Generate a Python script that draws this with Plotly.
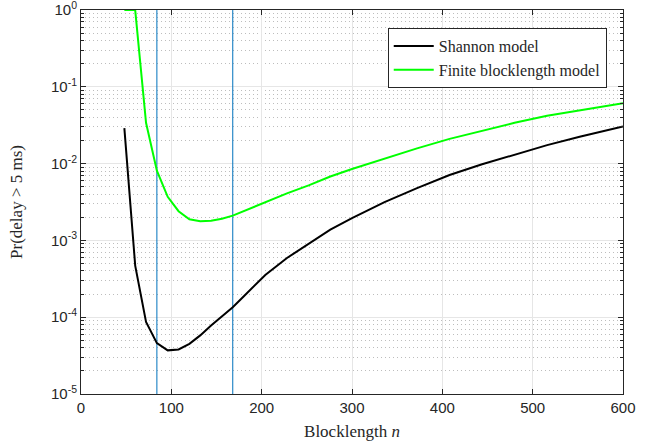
import plotly.graph_objects as go

# Blocklength values (n)
n_vals = [48, 60, 72, 84, 96, 108, 120, 132, 144, 156, 168, 180, 204, 228, 252,
          276, 300, 336, 372, 408, 444, 480, 516, 552, 600]

# Shannon model: Pr(delay > 5 ms)
shannon = [0.029, 4.7e-4, 8.7e-5, 4.6e-5, 3.7e-5, 3.8e-5, 4.5e-5, 5.8e-5, 7.8e-5,
           1.03e-4, 1.35e-4, 1.86e-4, 3.55e-4, 5.9e-4, 9.1e-4, 1.38e-3, 1.95e-3,
           3.16e-3, 4.8e-3, 7.1e-3, 9.8e-3, 0.0132, 0.0174, 0.0224, 0.0305]

# Finite blocklength model: Pr(delay > 5 ms)
finite = [1.0, 1.0, 0.034, 0.0081, 0.0037, 0.0024, 0.00188, 0.00178, 0.0018,
          0.00192, 0.0021, 0.0024, 0.0032, 0.0041, 0.0052, 0.0068, 0.0085,
          0.0117, 0.0158, 0.021, 0.027, 0.034, 0.042, 0.049, 0.061]

# Vertical marker lines
vline_x = [84, 168]

x_ticks = [0, 100, 200, 300, 400, 500, 600]
y_ticks = [1e-5, 1e-4, 1e-3, 1e-2, 1e-1, 1e0]
y_ticktext = ["10<sup>-5</sup>", "10<sup>-4</sup>", "10<sup>-3</sup>",
              "10<sup>-2</sup>", "10<sup>-1</sup>", "10<sup>0</sup>"]
y_minor = [m * d for d in [1e-5, 1e-4, 1e-3, 1e-2, 1e-1] for m in range(2, 10)]

fig = go.Figure()

for vx in vline_x:
    fig.add_trace(go.Scatter(x=[vx, vx], y=[1e-5, 1e0], mode="lines",
                             line=dict(color="#0072BD", width=1),
                             showlegend=False, hoverinfo="skip"))

fig.add_trace(go.Scatter(x=n_vals, y=shannon, mode="lines", name="Shannon model",
                         line=dict(color="black", width=2)))
fig.add_trace(go.Scatter(x=n_vals, y=finite, mode="lines", name="Finite blocklength model",
                         line=dict(color="#00FF00", width=2)))

axis_color = "#262626"
fig.update_xaxes(range=[0, 600], tickvals=x_ticks, ticks="inside", ticklen=5,
                 tickcolor=axis_color, showline=True, linecolor=axis_color, linewidth=1,
                 mirror="ticks", showgrid=True, gridcolor="#e6e6e6", gridwidth=1,
                 zeroline=False, automargin=False, ticklabeloverflow="allow",
                 tickfont=dict(family="Liberation Sans, Arial", size=15, color=axis_color),
                 title=dict(text="Blocklength <i>n</i>", standoff=10,
                            font=dict(family="Liberation Serif, Times New Roman", size=17,
                                      color=axis_color)))
fig.update_yaxes(type="log", range=[-5, 0.0005], tickvals=y_ticks, ticktext=y_ticktext,
                 ticks="inside", ticklen=5, tickcolor=axis_color, showline=True,
                 linecolor=axis_color, linewidth=1, mirror="ticks", showgrid=True,
                 gridcolor="#e6e6e6", gridwidth=1, zeroline=False, automargin=False,
                 ticklabeloverflow="allow",
                 minor=dict(tickvals=y_minor, ticks="inside", ticklen=3,
                            tickcolor=axis_color, showgrid=True, gridcolor="#bdbdbd",
                            griddash="1px,3px", gridwidth=1),
                 tickfont=dict(family="Liberation Sans, Arial", size=15, color=axis_color),
                 title=dict(text="Pr(delay > 5 ms)", standoff=24,
                            font=dict(family="Liberation Serif, Times New Roman", size=17,
                                      color=axis_color)))

fig.update_layout(
    width=657, height=444,
    margin=dict(l=81, r=34, t=10, b=50),
    paper_bgcolor="white", plot_bgcolor="white",
    legend=dict(x=0.97, y=0.953, xanchor="right", yanchor="top",
                bgcolor="white", bordercolor=axis_color, borderwidth=1,
                font=dict(family="Liberation Serif, Times New Roman", size=16,
                          color=axis_color),
                tracegroupgap=0, itemwidth=40),
    showlegend=True,
)

fig.write_html("out.html", config={"displayModeBar": False},
               post_script="document.body.style.margin='0px';document.body.style.padding='0px';")
